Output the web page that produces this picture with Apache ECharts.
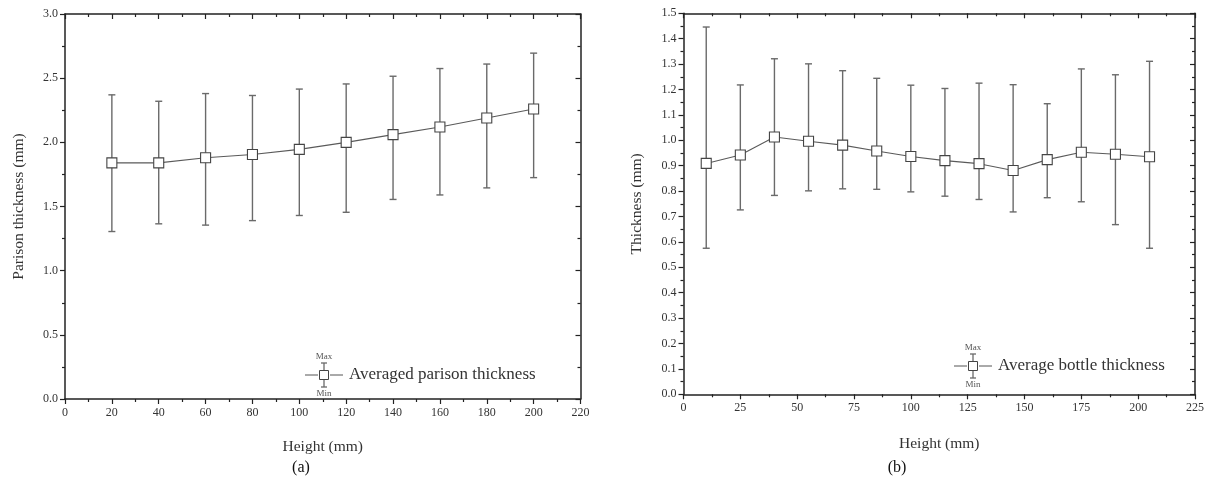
<!DOCTYPE html>
<html>
<head>
<meta charset="utf-8">
<script src="https://cdn.jsdelivr.net/npm/echarts@6/dist/echarts.min.js"></script>
<style>
html,body{margin:0;padding:0;background:#fff;}
#c{width:1212px;height:489px;}
</style>
</head>
<body>
<div id="c"></div>
<script>
// ---- Data: (a) parison thickness ----
const heightsA = [20, 40, 60, 80, 100, 120, 140, 160, 180, 200];
const meanA = [1.84, 1.84, 1.88, 1.905, 1.945, 2.00, 2.06, 2.12, 2.19, 2.26];
const maxA  = [2.37, 2.32, 2.38, 2.365, 2.415, 2.455, 2.515, 2.575, 2.61, 2.695];
const minA  = [1.305, 1.365, 1.355, 1.39, 1.43, 1.455, 1.555, 1.59, 1.645, 1.725];

// ---- Data: (b) bottle thickness ----
const heightsB = [10, 25, 40, 55, 70, 85, 100, 115, 130, 145, 160, 175, 190, 205];
const meanB = [0.909, 0.942, 1.013, 0.996, 0.981, 0.958, 0.936, 0.920, 0.908, 0.881, 0.924, 0.953, 0.945, 0.935];
const maxB  = [1.446, 1.218, 1.321, 1.301, 1.274, 1.244, 1.217, 1.204, 1.225, 1.219, 1.144, 1.281, 1.258, 1.311];
const minB  = [0.575, 0.726, 0.783, 0.801, 0.809, 0.807, 0.797, 0.780, 0.767, 0.718, 0.774, 0.758, 0.668, 0.575];

const labelA = 'Averaged parison thickness';
const labelB = 'Average bottle thickness';

const FONT = '"Liberation Serif", "DejaVu Serif", serif';
const AX = '#222';
const TXT = '#333';

function meanData(xs, ys){ return xs.map((x,i)=>[x, ys[i]]); }
function errData(xs, lo, hi){ return xs.map((x,i)=>[x, lo[i], hi[i]]); }

function errRender(params, api){
  const x = api.value(0);
  const p1 = api.coord([x, api.value(1)]);
  const p2 = api.coord([x, api.value(2)]);
  const w = 3.5;
  const st = {stroke:'#6a6a6a', lineWidth:1.4};
  return {type:'group', children:[
    {type:'line', shape:{x1:p1[0],y1:p1[1],x2:p2[0],y2:p2[1]}, style:st},
    {type:'line', shape:{x1:p1[0]-w,y1:p1[1],x2:p1[0]+w,y2:p1[1]}, style:st},
    {type:'line', shape:{x1:p2[0]-w,y1:p2[1],x2:p2[0]+w,y2:p2[1]}, style:st}
  ]};
}

function xAxes(gi, max, interval, name, gap){
  const base = {
    type:'value', gridIndex:gi, min:0, max:max, interval:interval,
    axisLine:{show:true, onZero:false, lineStyle:{color:AX, width:1.5}},
    splitLine:{show:false},
    minorTick:{show:true, splitNumber:2, length:3, lineStyle:{color:AX, width:1.2}},
    axisTick:{show:true, inside:false, length:5, lineStyle:{color:AX, width:1.2}}
  };
  return [
    Object.assign({}, base, {position:'bottom',
      axisLabel:{show:true, fontFamily:FONT, fontSize:12, color:TXT, margin:8},
      name:name, nameLocation:'middle', nameGap:gap,
      nameTextStyle:{fontFamily:FONT, fontSize:15.5, color:TXT}}),
    Object.assign({}, base, {position:'top', axisLabel:{show:false},
      axisTick:{show:true, inside:true, length:5, lineStyle:{color:AX, width:1.2}},
      minorTick:{show:true, splitNumber:2, length:3, lineStyle:{color:AX, width:1.2}}})
  ];
}
function yAxes(gi, max, interval, name, gap){
  const base = {
    type:'value', gridIndex:gi, min:0, max:max, interval:interval,
    axisLine:{show:true, onZero:false, lineStyle:{color:AX, width:1.5}},
    splitLine:{show:false},
    minorTick:{show:true, splitNumber:2, length:3, lineStyle:{color:AX, width:1.2}},
    axisTick:{show:true, inside:false, length:5, lineStyle:{color:AX, width:1.2}}
  };
  return [
    Object.assign({}, base, {position:'left',
      axisLabel:{show:true, fontFamily:FONT, fontSize:12, color:TXT, margin:7,
        formatter:v=>v.toFixed(1)},
      name:name, nameLocation:'middle', nameGap:gap,
      nameTextStyle:{fontFamily:FONT, fontSize:15.5, color:TXT}}),
    Object.assign({}, base, {position:'right', axisLabel:{show:false},
      axisTick:{show:true, inside:true, length:5, lineStyle:{color:AX, width:1.2}},
      minorTick:{show:true, splitNumber:2, length:3, lineStyle:{color:AX, width:1.2}}})
  ];
}

function legendGroup(cx, cy, label){
  const st = {stroke:'#555', lineWidth:1};
  const eb = {stroke:'#6a6a6a', lineWidth:1.3};
  return {type:'group', children:[
    {type:'line', shape:{x1:cx-19,y1:cy,x2:cx-6,y2:cy}, style:st},
    {type:'line', shape:{x1:cx+6,y1:cy,x2:cx+19,y2:cy}, style:st},
    {type:'line', shape:{x1:cx,y1:cy-12,x2:cx,y2:cy+12}, style:eb},
    {type:'line', shape:{x1:cx-3,y1:cy-12,x2:cx+3,y2:cy-12}, style:eb},
    {type:'line', shape:{x1:cx-3,y1:cy+12,x2:cx+3,y2:cy+12}, style:eb},
    {type:'rect', shape:{x:cx-4.5,y:cy-4.5,width:9,height:9}, style:{fill:'#fff', stroke:'#444', lineWidth:1}},
    {type:'text', style:{x:cx, y:cy-14, text:'Max', fontFamily:FONT, fontSize:9, fill:'#555', align:'center', verticalAlign:'bottom'}},
    {type:'text', style:{x:cx, y:cy+14, text:'Min', fontFamily:FONT, fontSize:9, fill:'#555', align:'center', verticalAlign:'top'}},
    {type:'text', style:{x:cx+25, y:cy, text:label, fontFamily:FONT, fontSize:17, fill:TXT, align:'left', verticalAlign:'middle'}}
  ]};
}

const chart = echarts.init(document.getElementById('c'), null, {renderer:'canvas'});
const xa = xAxes(0, 220, 20, 'Height (mm)', 40).concat(xAxes(1, 225, 25, 'Height (mm)', 42));
const ya = yAxes(0, 3.0, 0.5, 'Parison thickness (mm)', 38).concat(yAxes(1, 1.5, 0.1, 'Thickness (mm)', 39));

const lineStyleCommon = {color:'#5a5a5a', width:1.1};
const option = {
  backgroundColor:'#fff',
  animation:false,
  grid:[
    {left:65, top:14, width:515.5, height:385, containLabel:false},
    {left:683.5, top:13.3, width:511.5, height:381, containLabel:false}
  ],
  xAxis: xa,
  yAxis: ya,
  series:[
    {type:'custom', xAxisIndex:0, yAxisIndex:0, renderItem:errRender, data:errData(heightsA, minA, maxA), z:2, silent:true},
    {type:'line', xAxisIndex:0, yAxisIndex:0, data:meanData(heightsA, meanA), symbol:'rect', symbolSize:10,
      showAllSymbol:true, lineStyle:lineStyleCommon, itemStyle:{color:'#fff', borderColor:'#444', borderWidth:1.1}, z:3, name:labelA},
    {type:'custom', xAxisIndex:2, yAxisIndex:2, renderItem:errRender, data:errData(heightsB, minB, maxB), z:2, silent:true},
    {type:'line', xAxisIndex:2, yAxisIndex:2, data:meanData(heightsB, meanB), symbol:'rect', symbolSize:10,
      showAllSymbol:true, lineStyle:lineStyleCommon, itemStyle:{color:'#fff', borderColor:'#444', borderWidth:1.1}, z:3, name:labelB}
  ],
  graphic:[
    legendGroup(324, 375, labelA),
    legendGroup(973, 366, labelB),
    {type:'text', style:{x:301, y:468, text:'(a)', fontFamily:FONT, fontSize:16, fill:'#111', align:'center', verticalAlign:'middle'}},
    {type:'text', style:{x:897, y:468, text:'(b)', fontFamily:FONT, fontSize:16, fill:'#111', align:'center', verticalAlign:'middle'}}
  ]
};
chart.setOption(option);
</script>
</body>
</html>
